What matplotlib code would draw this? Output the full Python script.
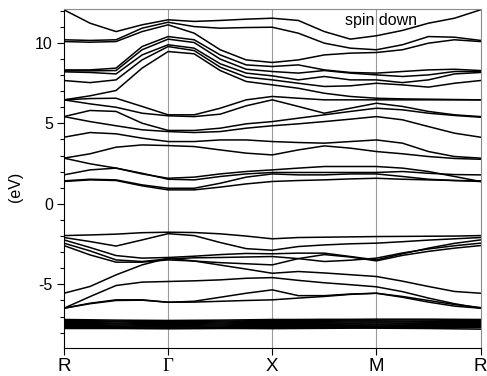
import matplotlib
matplotlib.use("Agg")
import matplotlib.pyplot as plt
from matplotlib.ticker import MultipleLocator

#---------------------------------------------------------------------------------------------------------------------------#
# k-path R - Gamma - X - M - R, sampled every quarter segment
k_points = [0, 0.25, 0.5, 0.75, 1, 1.25, 1.5, 1.75, 2, 2.25, 2.5, 2.75, 3, 3.25, 3.5, 3.75, 4]
sym_pos = [0, 1, 2, 3, 4]
sym_labels = ["R", "Γ", "X", "M", "R"]

# conduction bands (eV)
cond_bands = [
    [12.05, 11.22, 10.70, 11.12, 11.43, 11.33, 11.39, 11.47, 11.53, 11.39, 10.70, 10.23, 10.44, 10.77, 11.22, 11.53, 12.05],
    [10.19, 10.15, 10.19, 10.91, 11.28, 11.01, 10.91, 10.95, 10.97, 10.60, 9.98, 9.67, 9.57, 9.88, 10.39, 10.35, 10.15],
    [10.08, 10.04, 10.08, 10.70, 11.12, 10.60, 9.57, 8.94, 8.78, 8.94, 9.25, 9.36, 9.40, 9.57, 9.98, 10.19, 10.08],
    [8.32, 8.32, 8.43, 9.77, 10.39, 10.19, 9.25, 8.63, 8.53, 8.63, 8.32, 8.16, 8.12, 8.22, 8.32, 8.36, 8.28],
    [8.26, 8.26, 8.28, 9.57, 10.23, 10.02, 8.99, 8.36, 8.22, 8.12, 8.28, 8.12, 8.01, 7.91, 8.01, 8.22, 8.22],
    [8.20, 8.16, 8.07, 9.25, 9.88, 9.67, 8.70, 8.12, 7.95, 7.70, 7.91, 7.70, 7.70, 7.53, 7.70, 8.07, 8.16],
    [7.66, 7.53, 7.70, 8.94, 9.77, 9.52, 8.49, 7.87, 7.70, 7.49, 7.29, 7.33, 7.49, 7.39, 7.25, 7.49, 7.66],
    [6.46, 6.71, 7.04, 8.43, 9.46, 9.32, 8.28, 7.60, 7.39, 7.18, 6.87, 6.67, 6.56, 6.52, 6.50, 6.48, 6.46],
    [6.46, 6.54, 6.56, 6.05, 5.53, 5.53, 5.94, 6.46, 6.67, 6.56, 6.46, 6.46, 6.46, 6.46, 6.46, 6.46, 6.46],
    [6.46, 6.21, 6.00, 5.63, 5.47, 5.42, 5.57, 6.09, 6.46, 6.05, 5.63, 5.94, 6.25, 6.05, 5.74, 5.53, 5.42],
    [5.42, 5.80, 5.74, 5.01, 4.56, 4.56, 4.70, 4.97, 5.11, 5.32, 5.53, 5.74, 5.94, 5.84, 5.63, 5.49, 5.38],
    [5.42, 5.11, 4.85, 4.60, 4.49, 4.43, 4.49, 4.70, 4.85, 4.97, 5.11, 5.26, 5.42, 5.22, 4.80, 4.39, 4.14],
    [4.14, 4.43, 4.35, 4.08, 3.87, 3.87, 3.97, 3.97, 3.87, 3.81, 3.77, 3.87, 3.97, 3.77, 3.25, 2.94, 2.84],
    [2.84, 3.11, 3.52, 3.66, 3.62, 3.56, 3.35, 3.15, 3.04, 3.35, 3.60, 3.46, 3.25, 3.11, 2.94, 2.82, 2.77],
    [2.84, 2.49, 2.22, 1.86, 1.59, 1.66, 1.86, 2.01, 2.11, 2.22, 2.32, 2.32, 2.32, 2.22, 2.01, 1.70, 1.39],
    [1.80, 2.11, 2.22, 1.90, 1.53, 1.49, 1.70, 1.86, 1.95, 1.95, 1.95, 1.95, 1.95, 2.01, 1.90, 1.82, 1.80],
    [1.43, 1.53, 1.49, 1.18, 0.97, 0.97, 1.28, 1.66, 1.86, 1.80, 1.80, 1.86, 1.86, 1.70, 1.53, 1.45, 1.43],
    [1.39, 1.49, 1.45, 1.12, 0.87, 0.87, 1.04, 1.24, 1.39, 1.45, 1.49, 1.55, 1.59, 1.53, 1.49, 1.45, 1.39],
]

# valence bands (eV)
val_bands = [
    [-1.97, -1.93, -1.88, -1.79, -1.76, -1.78, -1.86, -2.00, -2.17, -2.09, -2.07, -2.05, -2.03, -2.02, -2.01, -2.00, -1.97],
    [-2.09, -2.34, -2.62, -2.24, -1.85, -1.97, -2.40, -2.78, -2.88, -2.65, -2.55, -2.48, -2.44, -2.35, -2.25, -2.17, -2.09],
    [-2.24, -2.71, -3.21, -3.37, -3.33, -3.25, -3.15, -3.08, -3.10, -3.06, -3.06, -3.27, -3.48, -3.10, -2.75, -2.45, -2.24],
    [-2.44, -2.92, -3.48, -3.58, -3.42, -3.35, -3.33, -3.30, -3.27, -3.40, -3.58, -3.50, -3.37, -3.05, -2.80, -2.60, -2.44],
    [-2.59, -3.17, -3.62, -3.62, -3.48, -3.55, -3.65, -3.72, -3.79, -3.40, -3.15, -3.30, -3.54, -3.20, -2.95, -2.75, -2.59],
    [-5.55, -5.13, -4.41, -3.79, -3.37, -3.55, -3.80, -4.05, -4.31, -4.20, -4.29, -4.40, -4.51, -4.80, -5.13, -5.44, -5.55],
    [-6.48, -5.76, -5.07, -4.86, -4.82, -4.78, -4.72, -4.62, -4.58, -4.75, -4.90, -5.02, -5.15, -5.45, -5.85, -6.20, -6.48],
    [-6.48, -6.17, -5.96, -5.96, -6.11, -6.05, -5.80, -5.55, -5.34, -5.70, -5.70, -5.60, -5.55, -5.75, -6.00, -6.25, -6.44],
    [-6.48, -6.20, -6.00, -5.98, -6.11, -6.10, -6.05, -6.00, -5.96, -5.85, -5.75, -5.62, -5.55, -5.80, -6.10, -6.35, -6.48],
]

# narrow core-like bands near -7.5 eV
core_bands = [
    [-7.18, -7.20, -7.22, -7.23, -7.24, -7.23, -7.22, -7.20, -7.18, -7.18, -7.17, -7.17, -7.16, -7.16, -7.16, -7.17, -7.18],
    [-7.24, -7.25, -7.28, -7.30, -7.31, -7.30, -7.28, -7.26, -7.25, -7.24, -7.23, -7.22, -7.22, -7.21, -7.22, -7.23, -7.24],
    [-7.30, -7.31, -7.33, -7.36, -7.37, -7.36, -7.34, -7.31, -7.30, -7.29, -7.29, -7.28, -7.28, -7.28, -7.29, -7.30, -7.30],
    [-7.36, -7.37, -7.40, -7.42, -7.43, -7.42, -7.40, -7.37, -7.36, -7.35, -7.35, -7.34, -7.34, -7.34, -7.35, -7.36, -7.36],
    [-7.42, -7.43, -7.46, -7.48, -7.50, -7.48, -7.46, -7.43, -7.42, -7.42, -7.41, -7.41, -7.40, -7.41, -7.42, -7.43, -7.42],
    [-7.49, -7.50, -7.52, -7.54, -7.55, -7.54, -7.52, -7.50, -7.49, -7.48, -7.48, -7.47, -7.47, -7.47, -7.48, -7.49, -7.49],
    [-7.55, -7.56, -7.58, -7.60, -7.61, -7.60, -7.58, -7.56, -7.55, -7.55, -7.54, -7.54, -7.53, -7.54, -7.55, -7.56, -7.55],
    [-7.62, -7.62, -7.63, -7.65, -7.66, -7.65, -7.64, -7.62, -7.62, -7.61, -7.61, -7.60, -7.60, -7.61, -7.62, -7.63, -7.62],
    [-7.68, -7.68, -7.69, -7.70, -7.71, -7.70, -7.69, -7.68, -7.68, -7.67, -7.67, -7.66, -7.66, -7.67, -7.68, -7.69, -7.68],
    [-7.74, -7.74, -7.74, -7.75, -7.76, -7.75, -7.74, -7.74, -7.75, -7.74, -7.73, -7.72, -7.72, -7.73, -7.74, -7.76, -7.78],
]

#---------------------------------------------------------------------------------------------------------------------------#
plt.rcParams['font.family'] = ['Liberation Sans', 'DejaVu Sans']

fig = plt.figure(figsize=(4.87, 3.76), dpi=100)
ax = fig.add_axes([0.1314, 0.0745, 0.8553, 0.9015])

for band in cond_bands + val_bands + core_bands:
    ax.plot(k_points, band, color="black", lw=1.1, solid_joinstyle="round")

for pos in sym_pos[1:-1]:
    ax.axvline(pos, color="#9a9a9a", lw=0.8, zorder=0)

ax.set_xlim(0, 4)
ax.set_ylim(-8.95, 12.1)
ax.set_xticks(sym_pos)
ax.set_xticklabels(sym_labels, fontsize=13.5)
for lbl in ax.get_xticklabels():
    if lbl.get_text() == "Γ":
        lbl.set_fontfamily("Liberation Serif")
ax.set_yticks([-5, 0, 5, 10])
ax.set_yticklabels(["-5", "0", "5", "10"], fontsize=11.5)
ax.yaxis.set_minor_locator(MultipleLocator(1))
ax.tick_params(axis="x", direction="out", length=5, width=0.8, pad=2)
ax.tick_params(axis="y", which="major", direction="out", length=5, width=0.8, pad=3)
ax.tick_params(axis="y", which="minor", direction="out", length=3, width=0.8)

ax.spines["left"].set_color("black")
ax.spines["bottom"].set_color("black")
ax.spines["top"].set_color("#8a8a8a")
ax.spines["right"].set_color("#8a8a8a")
for s in ax.spines.values():
    s.set_linewidth(0.8)

fig.text(15 / 487, 1 - 187 / 376, "(eV)", rotation=90, fontsize=11.5, ha="center", va="center")
ax.text(381 / 487, 1 - 20 / 376, "spin down", transform=fig.transFigure, fontsize=11.5, ha="center", va="center")

fig.savefig("out.png", dpi=100)
